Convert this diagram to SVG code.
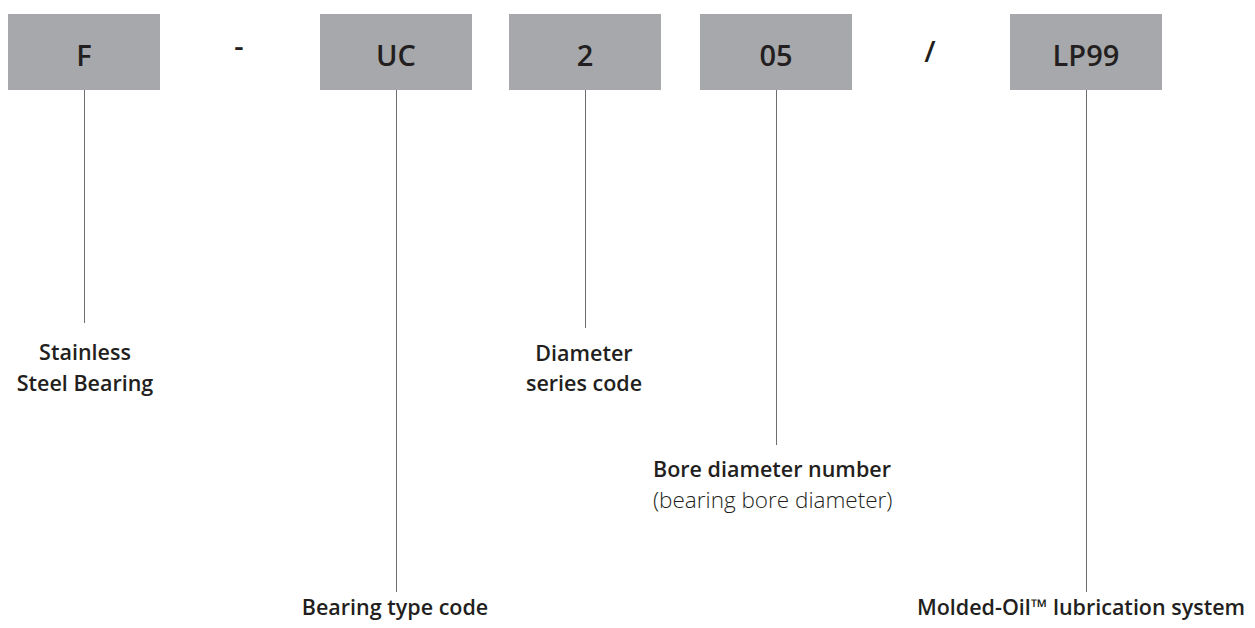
<svg xmlns="http://www.w3.org/2000/svg" width="1255" height="628" viewBox="0 0 1255 628">
<style>
.box{fill:#a7a8ab}
.code{font-family:"Open Sans","Noto Sans",sans-serif;font-size:29px;font-weight:600;fill:#231f20;text-anchor:middle}
.lbl{font-family:"Open Sans","Noto Sans",sans-serif;font-size:21.5px;font-weight:600;fill:#231f20}
.sub{font-family:"Open Sans","Noto Sans",sans-serif;font-size:22.5px;font-weight:300;fill:#231f20}
.c{text-anchor:middle}
.ln{stroke:#6d6e70;stroke-width:1;fill:none}
</style>
<rect width="1255" height="628" fill="#fff"/>
<g id="connectors">
<line class="ln" x1="84.5" y1="90" x2="84.5" y2="323"/>
<line class="ln" x1="396.5" y1="90" x2="396.5" y2="592"/>
<line class="ln" x1="585.5" y1="90" x2="585.5" y2="328"/>
<line class="ln" x1="776.5" y1="90" x2="776.5" y2="445"/>
<line class="ln" x1="1086.5" y1="90" x2="1086.5" y2="592"/>
</g>
<g id="node-F">
<rect class="box" x="8" y="14" width="152" height="76"/>
<text class="code" x="84" y="66">F</text>
</g>
<g id="sep-dash">
<text class="code" x="239" y="56">-</text>
</g>
<g id="node-UC">
<rect class="box" x="320" y="14" width="152" height="76"/>
<text class="code" x="396" y="66">UC</text>
</g>
<g id="node-2">
<rect class="box" x="509" y="14" width="152" height="76"/>
<text class="code" x="585" y="66">2</text>
</g>
<g id="node-05">
<rect class="box" x="700" y="14" width="152" height="76"/>
<text class="code" x="776" y="66">05</text>
</g>
<g id="sep-slash">
<text class="code" x="930" y="62" font-size="44" font-weight="500">/</text>
</g>
<g id="node-LP99">
<rect class="box" x="1010" y="14" width="152" height="76"/>
<text class="code" x="1086" y="66">LP99</text>
</g>
<g id="label-F">
<text class="lbl c" x="85" y="360">Stainless</text>
<text class="lbl c" x="85" y="391">Steel Bearing</text>
</g>
<g id="label-UC">
<text class="lbl c" x="395" y="615">Bearing type code</text>
</g>
<g id="label-2">
<text class="lbl c" x="584" y="361">Diameter</text>
<text class="lbl c" x="584" y="391">series code</text>
</g>
<g id="label-05">
<text class="lbl" x="653" y="477">Bore diameter number</text>
<text class="sub" x="653" y="508">(bearing bore diameter)</text>
</g>
<g id="label-LP99">
<text class="lbl c" x="1081" y="615">Molded-Oil™ lubrication system</text>
</g>
</svg>
